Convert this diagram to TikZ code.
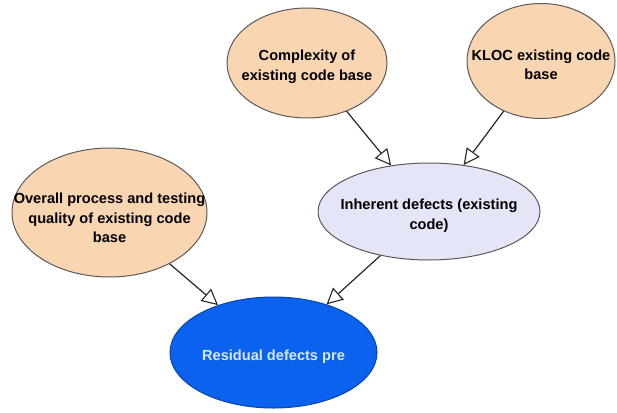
\documentclass[tikz,border=0pt]{standalone}
\usepackage{fontspec}
\setmainfont{Liberation Sans}
\usetikzlibrary{shapes.geometric,arrows.meta}

\definecolor{peach}{HTML}{FAD5B2}
\definecolor{lavender}{HTML}{E5E5F8}
\definecolor{deepblue}{HTML}{0A62EE}
\definecolor{paleblue}{HTML}{D6E8FF}
\definecolor{rimgrey}{HTML}{5A5A5A}

\tikzset{
  bubble/.style={ellipse, draw=rimgrey, line width=1pt, inner sep=0pt},
  caption/.style={align=center, inner sep=0pt, yshift=-4pt,
    font=\fontsize{14.6}{19.5}\selectfont\bfseries},
  factor/.style={bubble, fill=peach},
  derived/.style={bubble, fill=lavender},
  outcome/.style={bubble, fill=deepblue, draw=deepblue!70!black},
  link/.style={line width=1.2pt, draw=black!85,
    -{Triangle[length=16pt,width=16pt,fill=white,line width=1.1pt]}}
}

\begin{document}
\begin{tikzpicture}[x=1pt,y=-1pt]
  \useasboundingbox (0,0) rectangle (617,412);

  % parent factors
  \node[factor, minimum width=160pt, minimum height=110pt,
    label={[caption]center:{Complexity of\\existing code base}}] (cx) at (307,63) {};
  \node[factor, minimum width=148pt, minimum height=115pt,
    label={[caption]center:{KLOC existing code\\base}}] (kloc) at (541,61) {};
  \node[factor, minimum width=195pt, minimum height=129pt,
    label={[caption, yshift=-1.5pt]center:{Overall process and testing\\quality of existing code\\base}}] (qual) at (109.5,212.5) {};

  % intermediate and outcome
  \node[derived, minimum width=222pt, minimum height=97pt,
    label={[caption]center:{Inherent defects (existing\\code)}}] (inh) at (429,211.5) {};
  \node[outcome, minimum width=207pt, minimum height=111pt,
    label={[caption, text=paleblue]center:{Residual defects pre}}] (res) at (273.5,352.5) {};

  % causal links
  \draw[link] (cx) -- (inh);
  \draw[link] (kloc) -- (inh);
  \draw[link] (qual) -- (res);
  \draw[link] (inh) -- (res);
\end{tikzpicture}
\end{document}
